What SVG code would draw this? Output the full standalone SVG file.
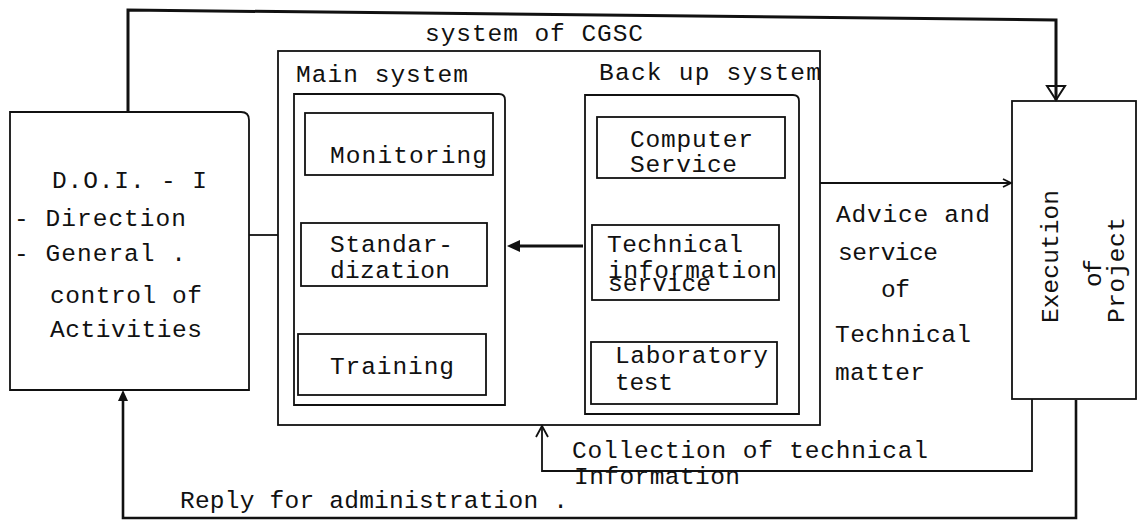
<svg xmlns="http://www.w3.org/2000/svg" width="1138" height="521" viewBox="0 0 1138 521">
<style>
.b{fill:none;stroke:#111;stroke-width:1.8}
.c{fill:none;stroke:#111;stroke-width:1.8}
.t{font-family:"Liberation Mono","Courier New",monospace;font-size:24.5px;fill:#111}
</style>
<rect width="1138" height="521" fill="#fff"/>
<g id="connectors">
<polyline class="c" points="128,112 128,10 1056,20 1056,100" style="stroke-width:3"/>
<polygon points="1047,86 1065,86 1056,100" fill="none" stroke="#111" stroke-width="2"/>
<line class="c" x1="249" y1="235" x2="278" y2="235"/>
<line class="c" x1="583" y1="246" x2="515" y2="246" style="stroke-width:3"/>
<polygon points="507,246 520,240 520,252" fill="#111"/>
<line class="c" x1="820" y1="183" x2="1011" y2="183"/>
<path class="c" d="M1003,179 L1011,183 L1003,187"/>
<polyline class="c" points="1032,399 1032,471 542,471 542,426"/>
<path class="c" d="M536,437 L542,426 L548,437"/>
<polyline class="c" points="1076,400 1076,518 123,518 123,395" style="stroke-width:2.6"/>
<polygon points="123,390 118,401 128,401" fill="#111"/>
</g>
<g id="doi">
<path class="b" d="M10,112 H241 Q249,112 249,120 V390 H10 Z"/>
<text class="t" x="52" y="188" textLength="155">D.O.I. - I</text>
<text class="t" x="14" y="226" textLength="172">- Direction</text>
<text class="t" x="14" y="261" textLength="172">- General .</text>
<text class="t" x="50" y="303" textLength="152">control of</text>
<text class="t" x="50" y="337" textLength="152">Activities</text>
</g>
<g id="cgsc">
<rect class="b" x="278" y="51" width="542" height="374"/>
<text class="t" x="425" y="41" textLength="218">system of CGSC</text>
</g>
<g id="main-system">
<path class="b" d="M294,94 H499 Q505,94 505,100 V405 H294 Z"/>
<text class="t" x="296" y="82" textLength="172">Main system</text>
</g>
<g id="monitoring">
<rect class="b" x="305" y="113" width="188" height="62"/>
<text class="t" x="330" y="163" textLength="157">Monitoring</text>
</g>
<g id="standardization">
<rect class="b" x="301" y="223" width="186" height="63"/>
<text class="t" x="330" y="252" textLength="123">Standar-</text>
<text class="t" x="330" y="278" textLength="120">dization</text>
</g>
<g id="training">
<rect class="b" x="298" y="334" width="188" height="61"/>
<text class="t" x="330" y="374" textLength="124">Training</text>
</g>
<g id="backup-system">
<path class="b" d="M585,95 H793 Q799,95 799,101 V414 H585 Z"/>
<text class="t" x="599" y="80" textLength="222">Back up system</text>
</g>
<g id="computer-service">
<rect class="b" x="597" y="117" width="188" height="61"/>
<text class="t" x="630" y="147" textLength="123">Computer</text>
<text class="t" x="630" y="172" textLength="107">Service</text>
</g>
<g id="technical-information">
<rect class="b" x="592" y="225" width="187" height="75"/>
<text class="t" x="607" y="252" textLength="136">Technical</text>
<text class="t" x="608" y="278" textLength="169">information</text>
<text class="t" x="608" y="291" textLength="103">service</text>
</g>
<g id="laboratory">
<rect class="b" x="591" y="342" width="186" height="62"/>
<text class="t" x="615" y="363" textLength="153">Laboratory</text>
<text class="t" x="615" y="390" textLength="58">test</text>
</g>
<g id="execution">
<rect class="b" x="1012" y="101" width="124" height="298"/>
<text class="t" transform="translate(1058,323) rotate(-90)" textLength="133">Execution</text>
<text class="t" transform="translate(1101,287) rotate(-90)" textLength="28">of</text>
<text class="t" transform="translate(1124,323) rotate(-90)" textLength="106">Project</text>
</g>
<g id="labels">
<text class="t" x="836" y="222" textLength="154">Advice and</text>
<text class="t" x="838" y="260" textLength="100">service</text>
<text class="t" x="881" y="297" textLength="29">of</text>
<text class="t" x="835" y="342" textLength="136">Technical</text>
<text class="t" x="835" y="380" textLength="90">matter</text>
<text class="t" x="572" y="458" textLength="356">Collection of technical</text>
<text class="t" x="574" y="484" textLength="166">Information</text>
<text class="t" x="180" y="508" textLength="388">Reply for administration .</text>
</g>
</svg>
